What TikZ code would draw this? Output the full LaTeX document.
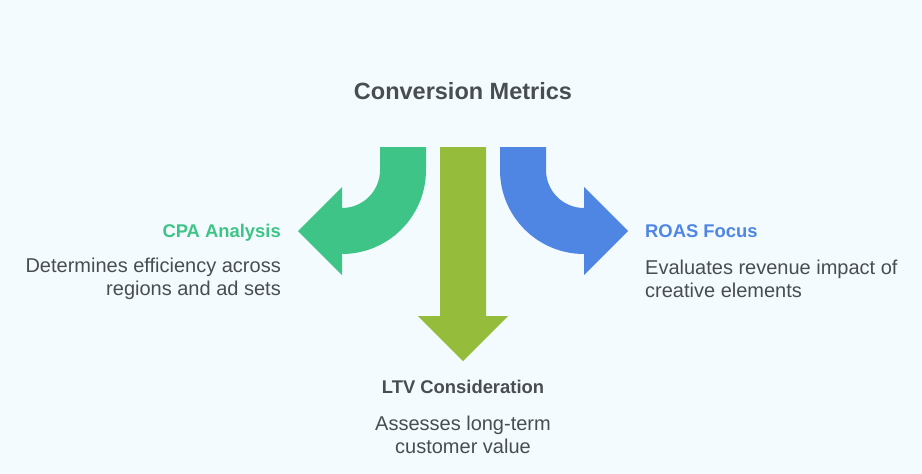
\documentclass[tikz,border=0pt]{standalone}
\usepackage{fontspec}
\setmainfont{Liberation Sans}
\definecolor{bgcol}{HTML}{F4FBFE}
\definecolor{txtcol}{HTML}{484D52}
\definecolor{cpagreen}{HTML}{3EC486}
\definecolor{ltvolive}{HTML}{95BC3B}
\definecolor{roasblue}{HTML}{4F86E3}
\tikzset{
	title/.style={font=\bfseries\fontsize{23.5}{28}\selectfont, text=txtcol, inner sep=0pt},
	head/.style={font=\bfseries\fontsize{18.4}{22}\selectfont, inner sep=0pt},
	desc/.style={font=\fontsize{20}{22.5}\selectfont, text=txtcol, inner sep=0pt}
}
\begin{document}
\begin{tikzpicture}[x=1pt,y=1pt,yscale=-1]
		\fill[bgcol] (0,0) rectangle (922,474);
		\useasboundingbox (0,0) rectangle (922,474);
		% three arrows leaving the top
		\fill[cpagreen] (380,147) -- (426,147) -- (426,170)
			arc[start angle=0, end angle=90, radius=84pt] -- (342,275) -- (298,231)
			-- (342,187) -- (342,208) arc[start angle=90, end angle=0, radius=38pt] -- cycle;
		\fill[ltvolive] (440,147) -- (486,147) -- (486,316) -- (508,316)
			-- (463,361) -- (418,316) -- (440,316) -- cycle;
		\fill[roasblue] (546,147) -- (500,147) -- (500,170)
			arc[start angle=180, end angle=90, radius=84pt] -- (584,275) -- (628,231)
			-- (584,187) -- (584,208) arc[start angle=90, end angle=180, radius=38pt] -- cycle;
		% labels
		\node[title, anchor=base] (metrics) at (463,99) {Conversion Metrics};
		\node[head, text=cpagreen, anchor=base east] (cpa) at (281,237) {CPA Analysis};
		\node[desc, anchor=east, align=right] (cpadesc) at (281,279) {Determines efficiency across\\regions and ad sets};
		\node[head, text=roasblue, anchor=base west] (roas) at (645,237) {ROAS Focus};
		\node[desc, anchor=west, align=left] (roasdesc) at (645,279) {Evaluates revenue impact of\\creative elements};
		\node[head, text=txtcol, anchor=base] (ltv) at (463,393) {LTV Consideration};
		\node[desc, align=center] (ltvdesc) at (463,435) {Assesses long-term\\customer value};
	\end{tikzpicture}
\end{document}
